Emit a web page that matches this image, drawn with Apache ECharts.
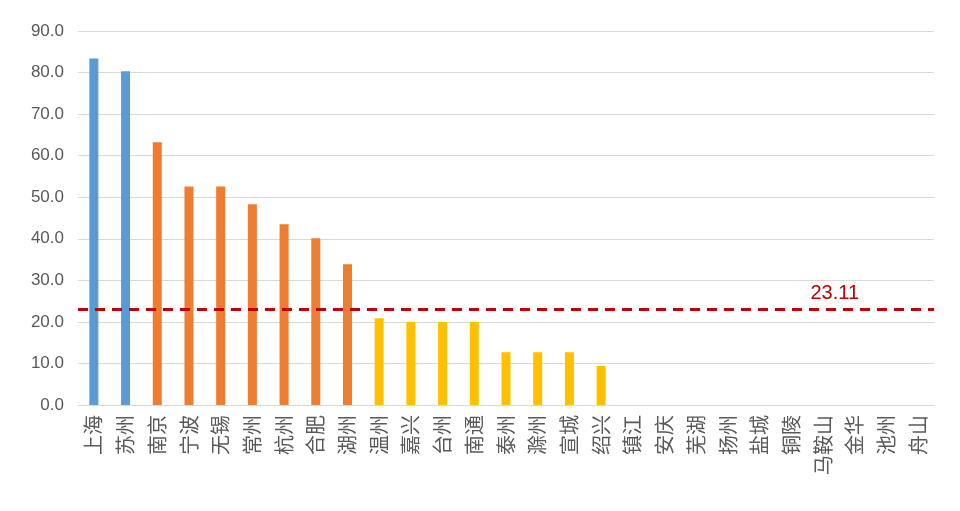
<!DOCTYPE html><html><head><meta charset="utf-8"><script src="https://cdn.jsdelivr.net/npm/echarts@6/dist/echarts.min.js"></script></head><body style="margin:0"><div id="c" style="width:960px;height:511px"></div><script>
const categories=["上海","苏州","南京","宁波","无锡","常州","杭州","合肥","湖州","温州","嘉兴","台州","南通","泰州","滁州","宣城","绍兴","镇江","安庆","芜湖","扬州","盐城","铜陵","马鞍山","金华","池州","舟山"];
const values=[83.4,80.3,63.2,52.6,52.6,48.3,43.5,40.1,33.9,20.9,20.0,20.0,20.0,12.7,12.7,12.7,9.4,0,0,0,0,0,0,0,0,0,0];
const groups=[0,0,1,1,1,1,1,1,1,2,2,2,2,2,2,2,2,2,2,2,2,2,2,2,2,2,2];
const colors=["#5B9BD5","#ED7D31","#FFC000"];
const average=23.11;
const chart=echarts.init(document.getElementById('c'));
chart.setOption({
grid:{left:78,right:26,top:31,bottom:106},
xAxis:{type:'category',data:categories,axisTick:{show:false},axisLine:{lineStyle:{color:'#d9d9d9'}},
axisLabel:{interval:0,rotate:90,margin:10,color:'#595959',fontSize:20,fontFamily:'Noto Sans CJK SC'}},
yAxis:{type:'value',min:0,max:90,interval:10,axisLabel:{color:'#595959',fontSize:17,margin:14,formatter:v=>v.toFixed(1)},splitLine:{lineStyle:{color:'#d9d9d9'}}},
series:[{type:'bar',barWidth:9,data:values.map((v,i)=>({value:v,itemStyle:{color:colors[groups[i]]}})),
markLine:{symbol:'none',silent:true,lineStyle:{color:'#C00000',type:[10,7],width:3},
label:{position:'insideEndTop',formatter:String(average),color:'#C00000',fontSize:20,offset:[-70,0]},data:[{yAxis:average}]}}]
});
</script></body></html>
